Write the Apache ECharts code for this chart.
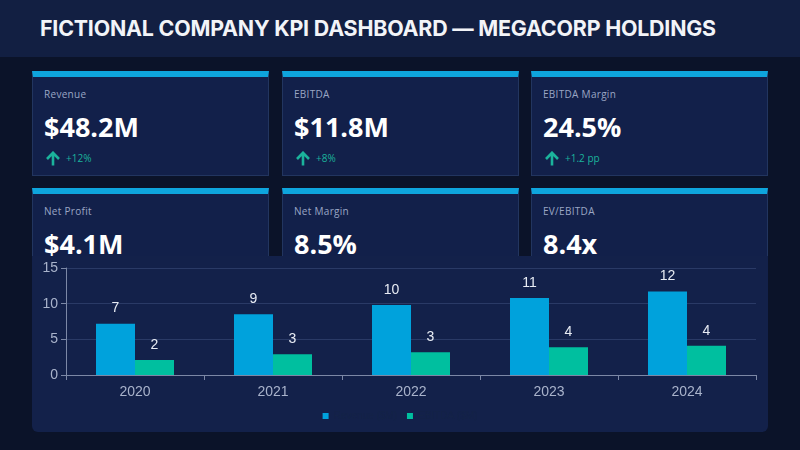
<!DOCTYPE html>
<html>
<head>
<meta charset="utf-8">
<script src="https://cdn.jsdelivr.net/npm/echarts@6/dist/echarts.min.js"></script>
<style>
  html, body { margin: 0; padding: 0; }
  body { width: 800px; height: 450px; background: #0b1329; position: relative; overflow: hidden; font-family: "Open Sans", "Noto Sans", sans-serif; }
  .header { position: absolute; left: 0; top: 0; width: 800px; height: 57px; background: #121f42; }
  .header h1 { margin: 0; position: absolute; left: 40px; top: 15px; font-family: Inter, "Liberation Sans", sans-serif; font-weight: 700; font-size: 21.4px; color: #f2f4f8; letter-spacing: -0.2px; white-space: nowrap; }
  .card { position: absolute; width: 235px; height: 98px; background: #12204a; border: 1px solid #22355f; border-top: 6px solid #0ea5dd; box-sizing: content-box; }
  .card .lbl { position: absolute; left: 11px; top: 10px; font-size: 10px; color: #9aa6c4; letter-spacing: 0.3px; }
  .card .val { position: absolute; left: 11px; top: 31px; font-size: 27px; font-weight: 700; color: #ffffff; }
  .card .chg { position: absolute; left: 12px; top: 73px; font-size: 10px; color: #1bb39c; line-height: 16px; }
  .card .chg svg { vertical-align: -4px; margin-right: 5px; }
  #panel { position: absolute; left: 32px; top: 256px; width: 736px; height: 176px; background: #13214a; border-radius: 0 0 6px 6px; }
  #chart { position: absolute; left: 0; top: 0; width: 800px; height: 450px; }
</style>
</head>
<body>
<div class="header"><h1>FICTIONAL COMPANY KPI DASHBOARD — MEGACORP HOLDINGS</h1></div>
<div id="cards"></div>
<div id="panel"></div>
<div id="chart"></div>
<script>
var kpiLabels = ['Revenue', 'EBITDA', 'EBITDA Margin', 'Net Profit', 'Net Margin', 'EV/EBITDA'];
var kpiValues = ['$48.2M', '$11.8M', '24.5%', '$4.1M', '8.5%', '8.4x'];
var kpiChanges = ['+12%', '+8%', '+1.2 pp', '', '', ''];

var years = ['2020', '2021', '2022', '2023', '2024'];
var revenue = [7.2, 8.5, 9.8, 10.8, 11.7];
var ebitda = [2.1, 2.9, 3.2, 3.9, 4.1];
var seriesNames = ['Revenue ($M)', 'EBITDA ($M)'];

// kpi cards
var arrow = '<svg width="16" height="15" viewBox="0 0 16 15"><path d="M8 14.5V2M2 8l6-6.2L14 8" fill="none" stroke="#1bb39c" stroke-width="2.6"/></svg>';
var cardX = [32, 282, 531];
var cardY = [71, 188];
var html = '';
for (var i = 0; i < kpiLabels.length; i++) {
    var x = cardX[i % 3], y = cardY[Math.floor(i / 3)];
    html += '<div class="card" style="left:' + x + 'px;top:' + y + 'px">' +
        '<div class="lbl">' + kpiLabels[i] + '</div>' +
        '<div class="val">' + kpiValues[i] + '</div>' +
        (kpiChanges[i] ? '<div class="chg">' + arrow + kpiChanges[i] + '</div>' : '') +
        '</div>';
}
document.getElementById('cards').innerHTML = html;

var myChart = echarts.init(document.getElementById('chart'));
var labelStyle = {
    show: true,
    position: 'top',
    color: '#e8ecf4',
    fontSize: 14,
    fontFamily: 'Liberation Sans, Arial, sans-serif',
    distance: 8,
    formatter: function (p) { return Math.round(p.value); }
};
option = {
    backgroundColor: 'transparent',
    textStyle: { fontFamily: 'Liberation Sans, Arial, sans-serif' },
    grid: { left: 66, right: 44, top: 268, bottom: 75 },
    legend: {
        left: 'center',
        top: 406,
        itemWidth: 6,
        itemHeight: 6,
        icon: 'rect',
        itemGap: 10,
        textStyle: { color: '#142347', fontSize: 10 },
        data: seriesNames
    },
    xAxis: {
        type: 'category',
        data: years,
        axisLine: { lineStyle: { color: '#7c88a6' } },
        axisTick: { show: true, lineStyle: { color: '#7c88a6' } },
        axisLabel: { color: '#a9b3cb', fontSize: 14, margin: 10 }
    },
    yAxis: {
        type: 'value',
        min: 0,
        max: 15,
        interval: 5,
        axisLine: { show: true, lineStyle: { color: '#7c88a6' } },
        axisTick: { show: true, lineStyle: { color: '#7c88a6' } },
        axisLabel: { color: '#a9b3cb', fontSize: 14, margin: 8 },
        splitLine: { lineStyle: { color: '#2a3a66' } }
    },
    series: [
        {
            name: seriesNames[0],
            type: 'bar',
            data: revenue,
            barWidth: 39,
            barGap: '0%',
            itemStyle: { color: '#00a2dc' },
            label: labelStyle
        },
        {
            name: seriesNames[1],
            type: 'bar',
            data: ebitda,
            barWidth: 39,
            barGap: '0%',
            itemStyle: { color: '#00bf9f' },
            label: labelStyle
        }
    ]
};
myChart.setOption(option);
</script>
</body>
</html>
